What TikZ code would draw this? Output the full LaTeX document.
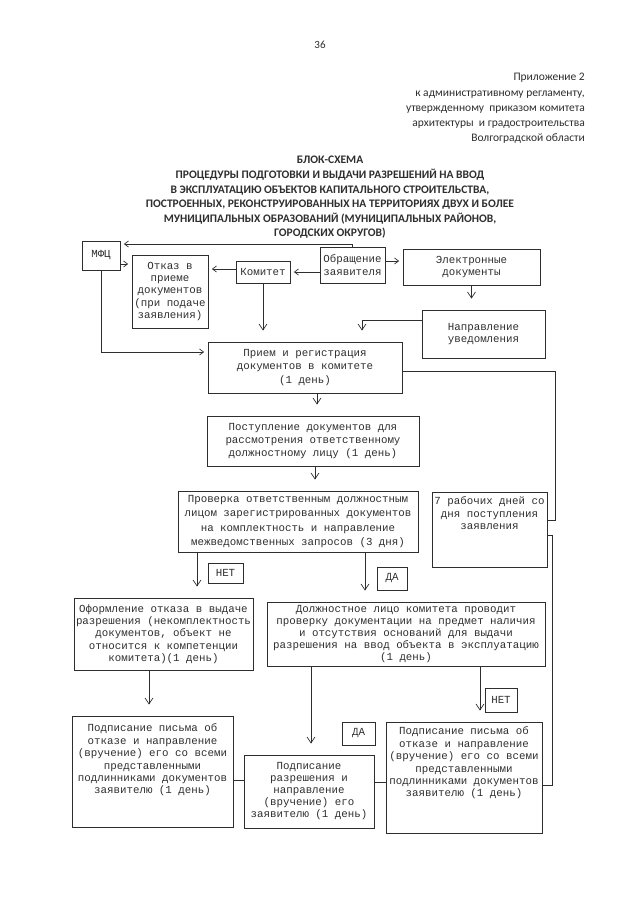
\documentclass[tikz,border=0pt]{standalone}
\usepackage{fontspec}
\setmainfont{Carlito}
\newfontfamily\monofont{Liberation Mono}
\usetikzlibrary{arrows.meta}
\definecolor{ink}{gray}{0.18}
\tikzset{
  box/.style={draw=ink, line width=0.8pt, inner sep=0pt, align=center, text=ink,
    font=\monofont\fontsize{10.8}{12.4}\selectfont},
  ln/.style={draw=ink, line width=0.7pt},
  varr/.style={ln, -{Straight Barb[length=6pt,width=8pt,sep=3pt]}, shorten >=8pt},
  harr/.style={ln, -{Straight Barb[length=4pt,width=6pt,sep=1.5pt]}, shorten >=2pt},
  hdr/.style={text=ink, inner sep=0pt}
}
\begin{document}
\begin{tikzpicture}[x=1pt,y=-1pt]
\useasboundingbox (0,0) rectangle (640,905);

% header
\node[hdr, font=\fontsize{11}{13}\selectfont] (pg) at (320,45) {36};
\node[hdr, anchor=east, align=right, font=\fontsize{11.5}{15.2}\selectfont] (app) at (585,108.5)
  {Приложение 2\\к административному регламенту,\\утвержденному\ \ приказом комитета\\архитектуры\ \ и градостроительства\\Волгоградской области};
\node[hdr, align=center, font=\bfseries\fontsize{11.5}{14.6}\selectfont] (title) at (330,197.5)
  {БЛОК-СХЕМА\\ПРОЦЕДУРЫ ПОДГОТОВКИ И ВЫДАЧИ РАЗРЕШЕНИЙ НА ВВОД\\В ЭКСПЛУАТАЦИЮ ОБЪЕКТОВ КАПИТАЛЬНОГО СТРОИТЕЛЬСТВА,\\ПОСТРОЕННЫХ, РЕКОНСТРУИРОВАННЫХ НА ТЕРРИТОРИЯХ ДВУХ И БОЛЕЕ\\МУНИЦИПАЛЬНЫХ ОБРАЗОВАНИЙ (МУНИЦИПАЛЬНЫХ РАЙОНОВ,\\ГОРОДСКИХ ОКРУГОВ)};

% boxes
\node[box, minimum width=38pt, minimum height=29pt] (mfc) at (101,255.5) {МФЦ};
\node[box, minimum width=76pt, minimum height=73pt] (otk) at (170,291.5) {Отказ в\\приеме\\документов\\(при подаче\\заявления)};
\node[box, minimum width=54pt, minimum height=22pt] (kom) at (263,272) {Комитет};
\node[box, minimum width=65pt, minimum height=36pt] (obr) at (352.5,265) {Обращение\\заявителя};
\node[box, minimum width=137pt, minimum height=36pt] (el) at (471.5,267) {Электронные\\документы};
\node[box, minimum width=123pt, minimum height=48pt] (nap) at (483.5,334) {Направление\\уведомления};
\node[box, minimum width=194pt, minimum height=51pt, font=\monofont\fontsize{10.8}{13.3}\selectfont] (pri) at (305,367.5)
  {Прием и регистрация\\документов в комитете\\(1 день)};
\node[box, minimum width=212pt, minimum height=50pt, font=\monofont\fontsize{10.8}{13.3}\selectfont] (post) at (313,441)
  {Поступление документов для\\рассмотрения ответственному\\должностному лицу (1 день)};
\node[box, minimum width=240pt, minimum height=61pt, font=\monofont\fontsize{10.8}{14.5}\selectfont] (prov) at (298,521.5)
  {Проверка ответственным должностным\\лицом зарегистрированных документов\\на комплектность и направление\\межведомственных запросов (3 дня)};
\node[box] (r7) at (489.5,529.5)
  {\parbox[c][75pt][t]{115pt}{\centering\vspace*{5pt}7 рабочих дней со\\дня поступления\\заявления}};
\node[box, minimum width=35pt, minimum height=20pt] (net1) at (225.5,573) {НЕТ};
\node[box, minimum width=30pt, minimum height=23pt] (da1) at (392,578.5) {ДА};
\node[box, minimum width=179pt, minimum height=72pt] (oform) at (163.5,634)
  {Оформление отказа в выдаче\\разрешения (некомплектность\\документов, объект не\\относится к компетенции\\комитета)(1 день)};
\node[box, minimum width=278pt, minimum height=64pt, font=\monofont\fontsize{10.8}{12}\selectfont] (dolzh) at (406,634)
  {Должностное лицо комитета проводит\\проверку документации на предмет наличия\\и отсутствия оснований для выдачи\\разрешения на ввод объекта в эксплуатацию\\(1 день)};
\node[box, minimum width=32pt, minimum height=24pt] (net2) at (501,700) {НЕТ};
\node[box, minimum width=33pt, minimum height=23pt] (da2) at (358.5,733.5) {ДА};
\node[box] (pl) at (152.5,771.5)
  {\parbox[c][111pt][t]{161pt}{\centering\vspace*{8pt}Подписание письма об\\отказе и направление\\(вручение) его со всеми\\представленными\\подлинниками документов\\заявителю (1 день)}};
\node[box, minimum width=130pt, minimum height=73pt, font=\monofont\fontsize{10.8}{12}\selectfont] (prz) at (309,791.5)
  {Подписание\\разрешения и\\направление\\(вручение) его\\заявителю (1 день)};
\node[box] (pr) at (464,777.5)
  {\parbox[c][111pt][t]{156pt}{\centering\vspace*{5pt}Подписание письма об\\отказе и направление\\(вручение) его со всеми\\представленными\\подлинниками документов\\заявителю (1 день)}};

% connectors
\draw[harr] (obr.west |- 0,272) -- (kom.east |- 0,272);
\draw[harr] (kom.west |- 0,269) -- (otk.east |- 0,269);
\draw[harr] (obr.east |- 0,261) -- (el.west |- 0,261);
\draw[harr] (obr.north) |- (mfc.east |- 0,244);
\draw[harr] (mfc.east |- 0,264) -- (otk.west |- 0,264);
\draw[harr] (mfc.south) |- (pri.west |- 0,352);
\draw[varr] (kom.south) -- (kom.south |- pri.north);
\draw[varr] (nap.west |- 0,320) -| (pri.north -| 362,0);
\draw[varr] (el.south) -- (el.south |- nap.north);
\draw[ln] (pri.east |- 0,371) -| (555,520) -- (r7.east |- 0,520);
\draw[ln] (r7.east |- 0,535) -| (552,785) -- (pr.east |- 0,785);
\draw[varr] (pri.south -| 317,0) -- (post.north -| 317,0);
\draw[varr] (post.south -| 315,0) -- (prov.north -| 315,0);
\draw[varr] (prov.south -| 197,0) -- (oform.north -| 197,0);
\draw[varr] (prov.south -| 365,0) -- (dolzh.north -| 365,0);
\draw[varr] (oform.south -| 149,0) -- (pl.north -| 149,0);
\draw[varr] (dolzh.south -| 311,0) -- (prz.north -| 311,0);
\draw[varr] (dolzh.south -| 480,0) -- (pr.north -| 480,0);
\draw[ln] (pl.east |- 0,780) -- (prz.west |- 0,780);
\draw[ln] (prz.east |- 0,782) -- (pr.west |- 0,782);
\end{tikzpicture}
\end{document}
